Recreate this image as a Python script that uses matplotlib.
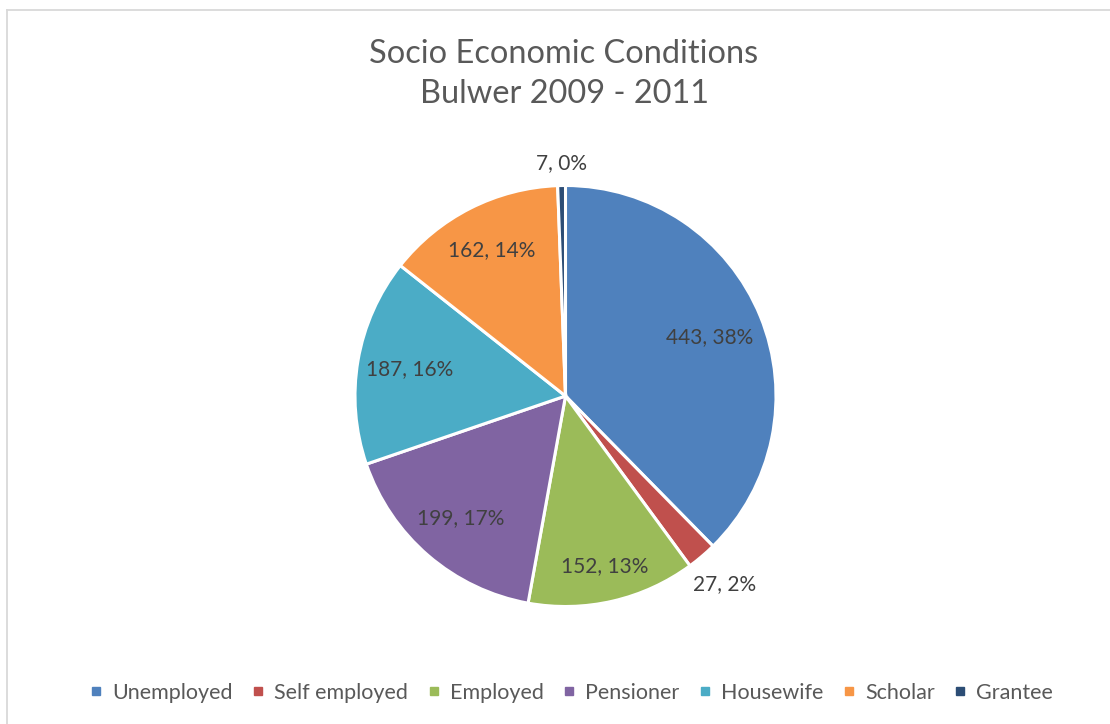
import matplotlib
matplotlib.use("Agg")
import matplotlib.pyplot as plt
from matplotlib.lines import Line2D
import numpy as np

# Data
categories = ["Unemployed", "Self employed", "Employed", "Pensioner",
              "Housewife", "Scholar", "Grantee"]
counts = [443, 27, 152, 199, 187, 162, 7]
percent_labels = ["38%", "2%", "13%", "17%", "16%", "14%", "0%"]

# Styling
colors = ["#4F81BD", "#C0504D", "#9BBB59", "#8064A2",
          "#4BACC6", "#F79646", "#2C4D75"]
label_radius = [0.74, 1.17, 0.83, 0.765, 0.75, 0.775, 1.105]

FONT = ["Lato", "DejaVu Sans"]
plt.rcParams["font.family"] = FONT

W, H = 1110, 724
fig = plt.figure(figsize=(W / 100, H / 100), dpi=100)
fig.patch.set_facecolor("white")

# Chart-area border (left and top edges)
bx, by = 7 / W, 1 - 9.5 / H
fig.add_artist(Line2D([bx, bx], [0, by], transform=fig.transFigure,
                      color="#D9D9D9", lw=1.3))
fig.add_artist(Line2D([bx, 1], [by, by], transform=fig.transFigure,
                      color="#D9D9D9", lw=1.3))

# Pie axes: centre (565.5, 396) px, radius 210.5 px
cx, cy, r = 565.5, 396, 210.5
ax = fig.add_axes([(cx - r) / W, (H - cy - r) / H, 2 * r / W, 2 * r / H])
wedges, _ = ax.pie(counts, colors=colors, startangle=90, counterclock=False,
                   radius=1.0,
                   wedgeprops=dict(edgecolor="white", linewidth=2.2))
ax.set_xlim(-1, 1)
ax.set_ylim(-1, 1)
ax.set_aspect("equal")
ax.axis("off")

for w, n, pct, rad in zip(wedges, counts, percent_labels, label_radius):
    mid = np.deg2rad((w.theta1 + w.theta2) / 2)
    ax.text(rad * np.cos(mid), rad * np.sin(mid), f"{n}, {pct}",
            ha="center", va="center", fontsize=15, color="#404040",
            clip_on=False)

# Title
title_color = "#595959"
fig.text(564 / W, 1 - 63 / H, "Socio Economic Conditions", ha="center",
         va="baseline", fontsize=23.4, color=title_color)
fig.text(564 / W, 1 - 103 / H, "Bulwer 2009 - 2011", ha="center",
         va="baseline", fontsize=23.4, color=title_color)

# Legend
handles = [Line2D([], [], marker="s", linestyle="none", markersize=6,
                  markerfacecolor=c, markeredgecolor=c) for c in colors]
fig.legend(handles, categories, loc="center", ncol=len(categories),
           bbox_to_anchor=(571.5 / W, 1 - 693 / H), frameon=False,
           fontsize=15.5, labelcolor="#595959", handlelength=0.6,
           handletextpad=0.45, columnspacing=0.88)

fig.savefig("out.png", dpi=100, facecolor="white")
